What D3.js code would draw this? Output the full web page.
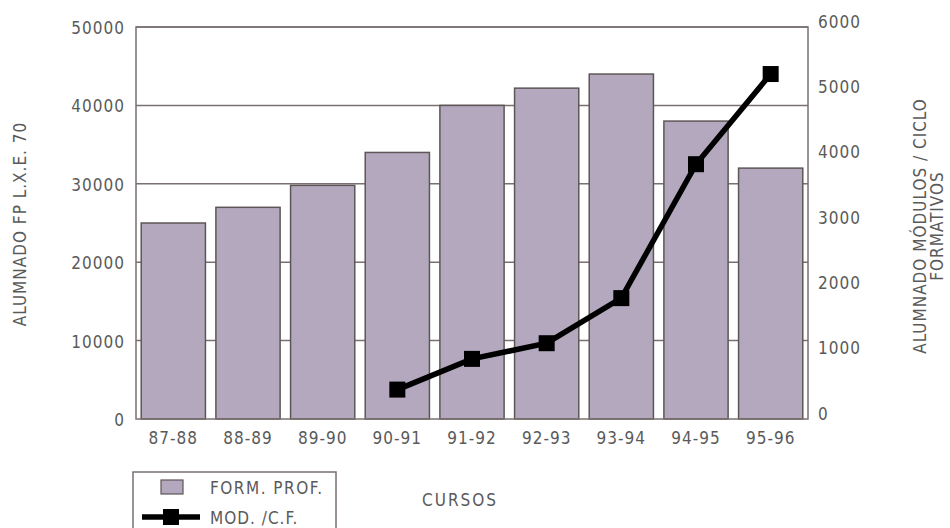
<!DOCTYPE html>
<html>
<head>
<meta charset="utf-8">
<script src="https://cdn.jsdelivr.net/npm/d3@7"></script>
<style>
    body { margin: 0; background: #fff; }
    svg text { font-family: "DejaVu Sans Condensed", "DejaVu Sans", sans-serif; font-stretch: condensed; fill: #5a5a5a; letter-spacing: 1px; }
</style>
</head>
<body>
<div id="chart"></div>
<script>
    // Data
    var cursos = ["87-88", "88-89", "89-90", "90-91", "91-92", "92-93", "93-94", "94-95", "95-96"];
    var formProf = [25000, 27000, 29800, 34000, 40000, 42200, 44000, 38000, 32000];
    var modCF = [null, null, null, 450, 920, 1160, 1850, 3900, 5280];
    var leftTicks = [0, 10000, 20000, 30000, 40000, 50000];
    var rightTicks = [0, 1000, 2000, 3000, 4000, 5000, 6000];

    var width = 950, height = 528;
    var plot = { left: 136, right: 808, top: 27, bottom: 419 };
    var fs = 17;

    var svg = d3.select("#chart").append("svg")
        .attr("width", width).attr("height", height);

    var x = d3.scaleBand().domain(cursos)
        .range([plot.left, plot.right])
        .paddingInner(0.14).paddingOuter(0.07);
    var yL = d3.scaleLinear().domain([0, 50000]).range([plot.bottom, plot.top]);
    var yR = d3.scaleLinear().domain([0, 6000]).range([plot.bottom, plot.top]);

    var axisColor = "#7a7070";

    // gridlines (behind bars)
    svg.append("g").selectAll("line").data(leftTicks.slice(1))
        .enter().append("line")
        .attr("x1", plot.left).attr("x2", plot.right)
        .attr("y1", function(d) { return yL(d); })
        .attr("y2", function(d) { return yL(d); })
        .attr("stroke", axisColor).attr("stroke-width", 1.5);

    // bars
    svg.append("g").selectAll("rect").data(formProf)
        .enter().append("rect")
        .attr("x", function(d, i) { return x(cursos[i]); })
        .attr("y", function(d) { return yL(d); })
        .attr("width", x.bandwidth())
        .attr("height", function(d) { return yL(0) - yL(d); })
        .attr("fill", "#b3a8bd")
        .attr("stroke", "#5e5656").attr("stroke-width", 1.5);

    // frame
    svg.append("rect")
        .attr("x", plot.left).attr("y", plot.top)
        .attr("width", plot.right - plot.left).attr("height", plot.bottom - plot.top)
        .attr("fill", "none").attr("stroke", axisColor).attr("stroke-width", 1.5);

    // left axis
    var gL = svg.append("g").attr("transform", "translate(" + plot.left + ",0)")
        .call(d3.axisLeft(yL).tickValues(leftTicks).tickSize(0).tickPadding(11).tickFormat(d3.format("d")));
    gL.select(".domain").remove();
    gL.selectAll("text").attr("font-size", fs).attr("font-family", null).attr("dy", "0.38em");

    // right axis
    var gR = svg.append("g").attr("transform", "translate(" + plot.right + ",0)")
        .call(d3.axisRight(yR).tickValues(rightTicks).tickSize(0).tickPadding(10).tickFormat(d3.format("d")));
    gR.select(".domain").remove();
    gR.selectAll("text").attr("font-size", fs).attr("font-family", null).attr("dy", "0");

    // bottom axis
    var gB = svg.append("g").attr("transform", "translate(0," + plot.bottom + ")")
        .call(d3.axisBottom(x).tickSize(0).tickPadding(13));
    gB.select(".domain").remove();
    gB.selectAll("text").attr("font-size", fs).attr("font-family", null);

    // line series
    var pts = cursos.map(function(c, i) { return { c: c, v: modCF[i] }; })
        .filter(function(d) { return d.v !== null; });
    var line = d3.line()
        .x(function(d) { return x(d.c) + x.bandwidth() / 2; })
        .y(function(d) { return yR(d.v); });
    svg.append("path").datum(pts)
        .attr("d", line).attr("fill", "none")
        .attr("stroke", "#000").attr("stroke-width", 5.5);
    svg.append("g").selectAll("rect").data(pts)
        .enter().append("rect")
        .attr("x", function(d) { return x(d.c) + x.bandwidth() / 2 - 8; })
        .attr("y", function(d) { return yR(d.v) - 8; })
        .attr("width", 16).attr("height", 16).attr("fill", "#000");

    // axis titles
    svg.append("text")
        .attr("transform", "translate(26,224) rotate(-90)")
        .attr("text-anchor", "middle").attr("font-size", fs)
        .text("ALUMNADO FP L.X.E. 70");
    var rt = svg.append("text")
        .attr("transform", "translate(926,226) rotate(-90)")
        .attr("text-anchor", "middle").attr("font-size", fs);
    rt.append("tspan").attr("x", 0).attr("dy", 0).text("ALUMNADO MÓDULOS / CICLO");
    rt.append("tspan").attr("x", 0).attr("dy", 17).text("FORMATIVOS");

    svg.append("text")
        .attr("x", 460).attr("y", 506)
        .attr("text-anchor", "middle").attr("font-size", fs)
        .style("letter-spacing", "2px")
        .text("CURSOS");

    // legend
    var lg = svg.append("g").attr("transform", "translate(133,472)");
    lg.append("rect").attr("x", 0).attr("y", 0).attr("width", 203).attr("height", 70)
        .attr("fill", "#fff").attr("stroke", axisColor).attr("stroke-width", 1.5);
    lg.append("rect").attr("x", 28).attr("y", 8).attr("width", 22).attr("height", 14)
        .attr("fill", "#b3a8bd").attr("stroke", "#5e5656").attr("stroke-width", 1.2);
    lg.append("text").attr("x", 77).attr("y", 22).attr("font-size", fs)
        .style("letter-spacing", "1.5px").text("FORM. PROF.");
    lg.append("line").attr("x1", 9).attr("x2", 67).attr("y1", 45).attr("y2", 45)
        .attr("stroke", "#000").attr("stroke-width", 5.5);
    lg.append("rect").attr("x", 30).attr("y", 37).attr("width", 16).attr("height", 16).attr("fill", "#000");
    lg.append("text").attr("x", 77).attr("y", 52).attr("font-size", fs).text("MOD. /C.F.");
</script>
</body>
</html>
